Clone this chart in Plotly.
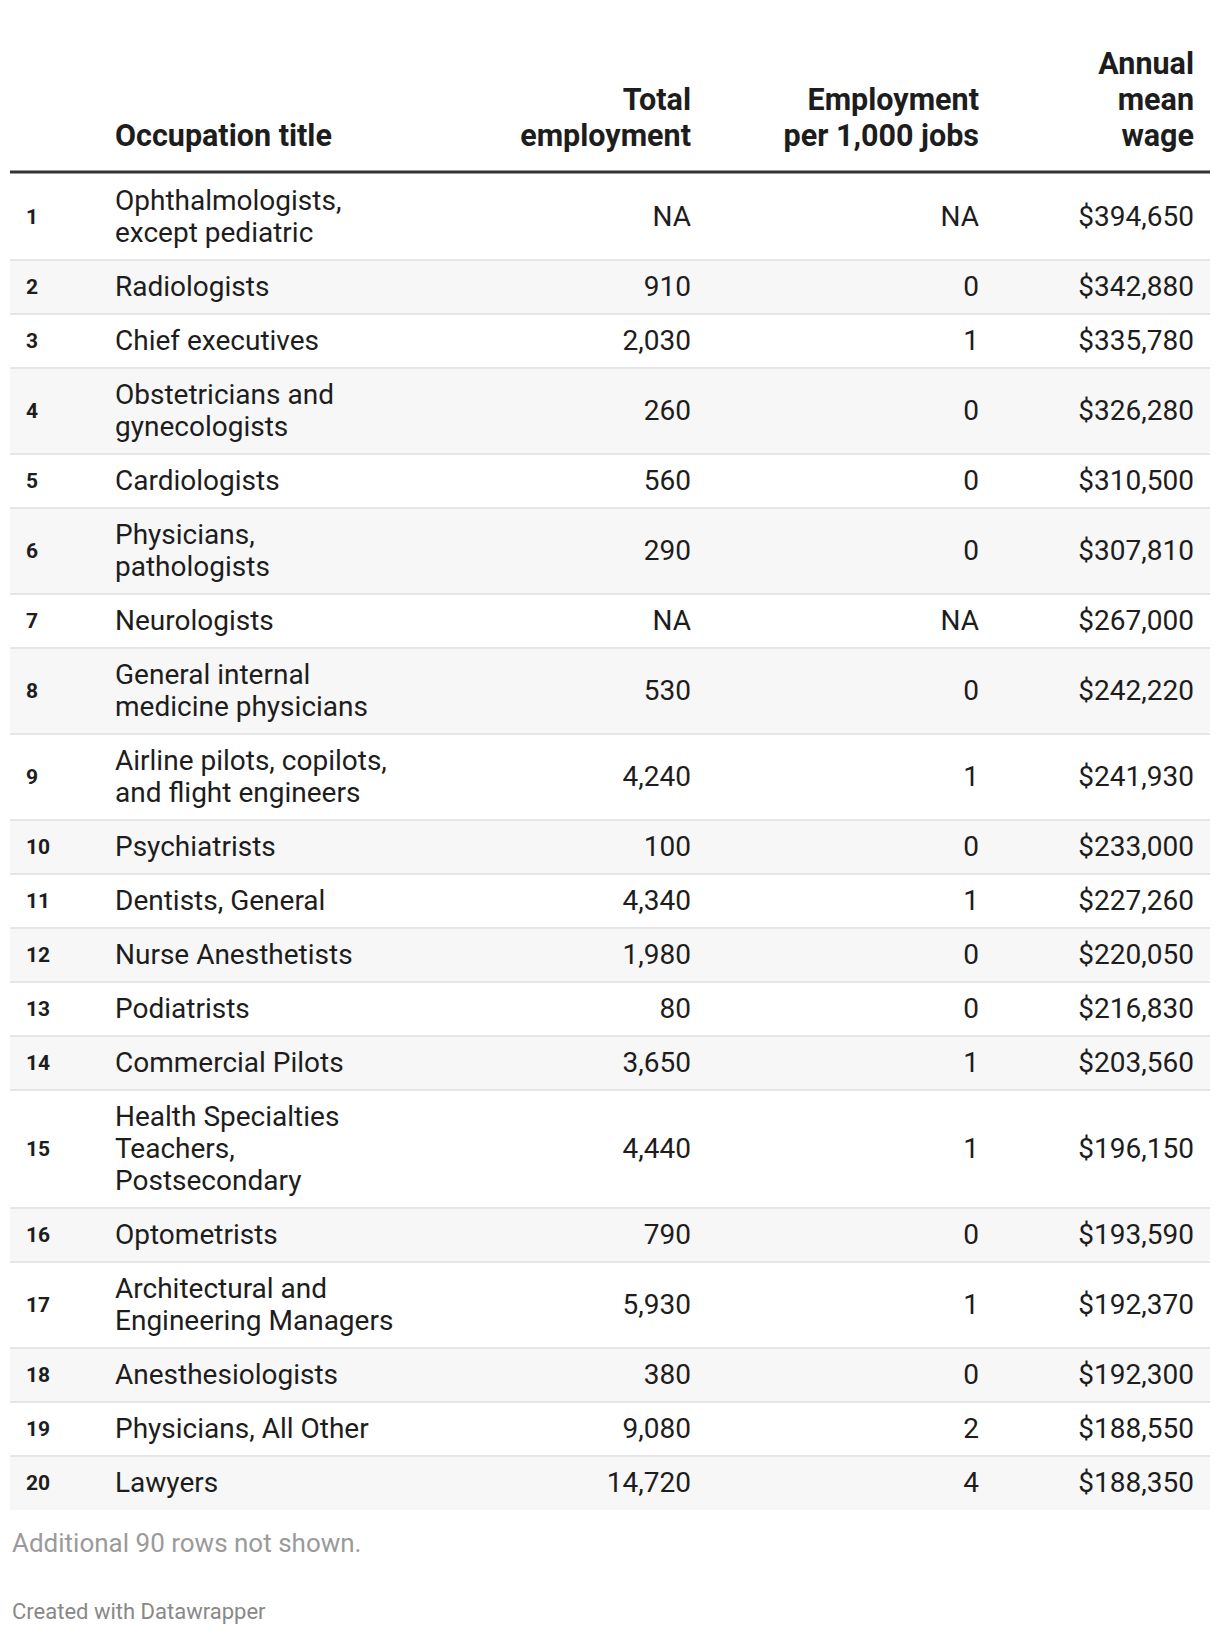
import plotly.graph_objects as go

# table data (top 20 rows)
ranks = list(range(1, 21))
titles = [
    "Ophthalmologists,<br>except pediatric",
    "Radiologists",
    "Chief executives",
    "Obstetricians and<br>gynecologists",
    "Cardiologists",
    "Physicians,<br>pathologists",
    "Neurologists",
    "General internal<br>medicine physicians",
    "Airline pilots, copilots,<br>and flight engineers",
    "Psychiatrists",
    "Dentists, General",
    "Nurse Anesthetists",
    "Podiatrists",
    "Commercial Pilots",
    "Health Specialties<br>Teachers,<br>Postsecondary",
    "Optometrists",
    "Architectural and<br>Engineering Managers",
    "Anesthesiologists",
    "Physicians, All Other",
    "Lawyers",
]
total_employment = [None, 910, 2030, 260, 560, 290, None, 530, 4240, 100,
                    4340, 1980, 80, 3650, 4440, 790, 5930, 380, 9080, 14720]
per_1000_jobs = [None, 0, 1, 0, 0, 0, None, 0, 1, 0,
                 1, 0, 0, 1, 1, 0, 1, 0, 2, 4]
annual_mean_wage = [394650, 342880, 335780, 326280, 310500, 307810, 267000,
                    242220, 241930, 233000, 227260, 220050, 216830, 203560,
                    196150, 193590, 192370, 192300, 188550, 188350]

header_title = ["Occupation title"]
header_total = ["Total", "employment"]
header_per = ["Employment", "per 1,000 jobs"]
header_wage = ["Annual", "mean", "wage"]
note_text = "Additional 90 rows not shown."
credit_text = "Created with Datawrapper"

# layout constants (page pixel units; the page body has an 8px margin)
W, H = 1220, 1634
PAGE_MARGIN = 8
LEFT, RIGHT = 10, 1210
X_RANK, X_TITLE = 26, 115
X_TOTAL, X_PER, X_WAGE = 691, 979, 1194
TABLE_TOP = 174
LINE_H = 32
ROW_PAD = 22
TEXT_DY = 2  # plotly centres text slightly high
HEAD_BASE, HEAD_LINE = 136, 36
FONT = "Roboto"
TXT = "#1d1d1d"


def fmt_int(v):
    return "NA" if v is None else f"{v:,}"


# row geometry from the number of text lines
row_top, row_bot, row_mid = [], [], []
y = TABLE_TOP
for t in titles:
    n = t.count("<br>") + 1
    h = ROW_PAD + LINE_H * n
    row_top.append(y)
    row_bot.append(y + h)
    row_mid.append(y + h / 2 + TEXT_DY)
    y += h

shapes = []
for i in range(len(titles)):
    if i % 2 == 1:
        shapes.append(dict(type="rect", xref="x", yref="y", x0=LEFT, x1=RIGHT,
                           y0=row_top[i], y1=row_bot[i], fillcolor="#f7f7f7",
                           line=dict(width=0), layer="below"))
for i in range(len(titles) - 1):
    shapes.append(dict(type="line", xref="x", yref="y", x0=LEFT, x1=RIGHT,
                       y0=row_bot[i], y1=row_bot[i],
                       line=dict(color="#e6e6e6", width=2)))
shapes.append(dict(type="line", xref="x", yref="y", x0=LEFT, x1=RIGHT,
                   y0=TABLE_TOP - 2, y1=TABLE_TOP - 2,
                   line=dict(color="#333333", width=3)))

# title lines, one point per line
tx, ty, tt = [], [], []
for i, t in enumerate(titles):
    parts = t.split("<br>")
    n = len(parts)
    for k, p in enumerate(parts):
        tx.append(X_TITLE)
        ty.append(row_mid[i] + (k - (n - 1) / 2) * LINE_H)
        tt.append(p)

fig = go.Figure()

fig.add_trace(go.Scatter(
    x=[X_RANK] * len(ranks), y=row_mid, text=[str(r) for r in ranks],
    mode="text", textposition="middle right",
    textfont=dict(family=FONT, size=21, color=TXT, weight="bold"),
    hoverinfo="skip"))
fig.add_trace(go.Scatter(
    x=tx, y=ty, text=tt, mode="text", textposition="middle right",
    textfont=dict(family=FONT, size=28, color=TXT), hoverinfo="skip"))
for xcol, vals in [(X_TOTAL, [fmt_int(v) for v in total_employment]),
                   (X_PER, [fmt_int(v) for v in per_1000_jobs]),
                   (X_WAGE, ["$" + fmt_int(v) for v in annual_mean_wage])]:
    fig.add_trace(go.Scatter(
        x=[xcol] * len(vals), y=row_mid, text=vals, mode="text",
        textposition="middle left",
        textfont=dict(family=FONT, size=28, color=TXT), hoverinfo="skip"))

# header, bottom aligned
for xcol, lines, pos in [(X_TITLE, header_title, "middle right"),
                         (X_TOTAL, header_total, "middle left"),
                         (X_PER, header_per, "middle left"),
                         (X_WAGE, header_wage, "middle left")]:
    n = len(lines)
    fig.add_trace(go.Scatter(
        x=[xcol] * n,
        y=[HEAD_BASE + TEXT_DY - (n - 1 - k) * HEAD_LINE for k in range(n)],
        text=lines, mode="text", textposition=pos,
        textfont=dict(family=FONT, size=30.5, color=TXT, weight="bold"),
        hoverinfo="skip"))

fig.add_annotation(x=LEFT, y=row_bot[-1] + 33, xref="x", yref="y", text=note_text,
                   showarrow=False, xanchor="left", yanchor="middle",
                   font=dict(family=FONT, size=26, color="#9a9a9a"))
fig.add_annotation(x=LEFT, y=row_bot[-1] + 101, xref="x", yref="y", text=credit_text,
                   showarrow=False, xanchor="left", yanchor="middle",
                   font=dict(family=FONT, size=22, color="#888888"))

fig.update_layout(
    width=W - PAGE_MARGIN, height=H - PAGE_MARGIN,
    margin=dict(l=0, r=0, t=0, b=0),
    paper_bgcolor="white", plot_bgcolor="white", showlegend=False,
    shapes=shapes,
    xaxis=dict(range=[PAGE_MARGIN, W], visible=False, fixedrange=True),
    yaxis=dict(range=[H, PAGE_MARGIN], visible=False, fixedrange=True),
)

fig.write_html("out.html")
